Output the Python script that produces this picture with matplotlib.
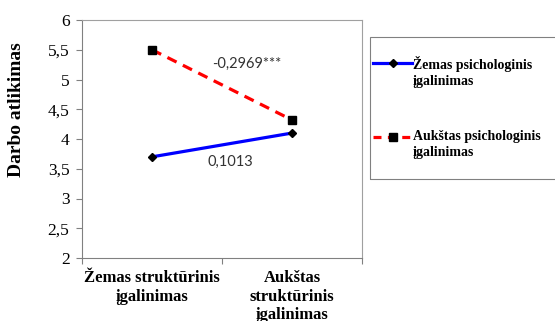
import numpy as np
import matplotlib.pyplot as plt
from matplotlib.lines import Line2D
from matplotlib.patches import Rectangle
from matplotlib.ticker import FuncFormatter

# Duomenys
kategorijos = ["Žemas struktūrinis\nįgalinimas", "Aukštas\nstruktūrinis\nįgalinimas"]
zemas_psich = [3.70, 4.10]
aukstas_psich = [5.50, 4.32]
serijos = ["Žemas psichologinis\nįgalinimas", "Aukštas psichologinis\nįgalinimas"]
koef_zemas = "0,1013"
koef_aukstas = "-0,2969***"

plt.rcParams["font.family"] = ["Liberation Serif", "DejaVu Serif"]

fig = plt.figure(figsize=(5.55, 3.21), dpi=100)
ax = fig.add_axes([82/555, 1-258/321, 280/555, 238/321])

x = np.arange(len(kategorijos))
ax.plot(x, zemas_psich, color="#0000ff", lw=2.3, marker="D", ms=4,
        mfc="black", mec="black", zorder=3)
ax.plot(x, aukstas_psich, color="#ff0000", lw=2.3, ls=(0, (3.2, 2.2)),
        marker="s", ms=5.5, mfc="black", mec="black", zorder=3)

ax.text(0.68, 5.26, koef_aukstas, fontsize=10.5, family="Lato", color="#333333",
        ha="center", va="center")
ax.text(0.557, 3.61, koef_zemas, fontsize=10.5, family="Lato", color="#333333",
        ha="center", va="center")

ax.set_xlim(-0.5, 1.5)
ax.set_ylim(2, 6)
ax.set_yticks(np.arange(2, 6.01, 0.5))
ax.yaxis.set_major_formatter(FuncFormatter(lambda v, p: f"{v:g}".replace(".", ",")))
ax.set_xticks([-0.5, 0.5, 1.5])
ax.set_xticklabels([])
ax.set_xticks(x, minor=True)
ax.set_xticklabels(kategorijos, minor=True, fontsize=12, fontweight="bold",
                   linespacing=1.2)
ax.tick_params(axis="x", which="minor", length=0, pad=9)
ax.tick_params(axis="x", which="major", length=4, color="#808080", direction="out")
ax.tick_params(axis="y", length=4, color="#808080", labelsize=12.5, pad=5)

for s in ["left", "bottom"]:
    ax.spines[s].set_color("#808080")
for s in ["top", "right"]:
    ax.spines[s].set_color("#a0a0a0")
ax.set_ylabel("Darbo atlikimas", fontsize=14, fontweight="bold")
ax.yaxis.set_label_coords((25 - 82)/280, (258 - 110)/238)

# Legenda
fig.patches.append(Rectangle((370/555, 1-179/321), 200/555, 142/321,
                             transform=fig.transFigure, fill=False,
                             edgecolor="#808080", lw=0.8))
stiliai = [dict(color="#0000ff", lw=2.3, marker="D", ms=4),
           dict(color="#ff0000", lw=2.3, ls=(0, (2.5, 2)), marker="s", ms=5.5)]
for i, (pav, st) in enumerate(zip(serijos, stiliai)):
    yy = 1 - (63 + i*74)/321
    fig.add_artist(Line2D([373/555, 412/555], [yy, yy], transform=fig.transFigure,
                          color=st["color"], lw=st["lw"], ls=st.get("ls", "-")))
    fig.add_artist(Line2D([392.5/555], [yy], transform=fig.transFigure, ls="none",
                          marker=st["marker"], ms=st["ms"], mfc="black", mec="black"))
    fig.text(413/555, yy + 7/321, pav, fontsize=10, fontweight="bold",
             ha="left", va="top", linespacing=1.3)

fig.savefig("out.png", dpi=100)
